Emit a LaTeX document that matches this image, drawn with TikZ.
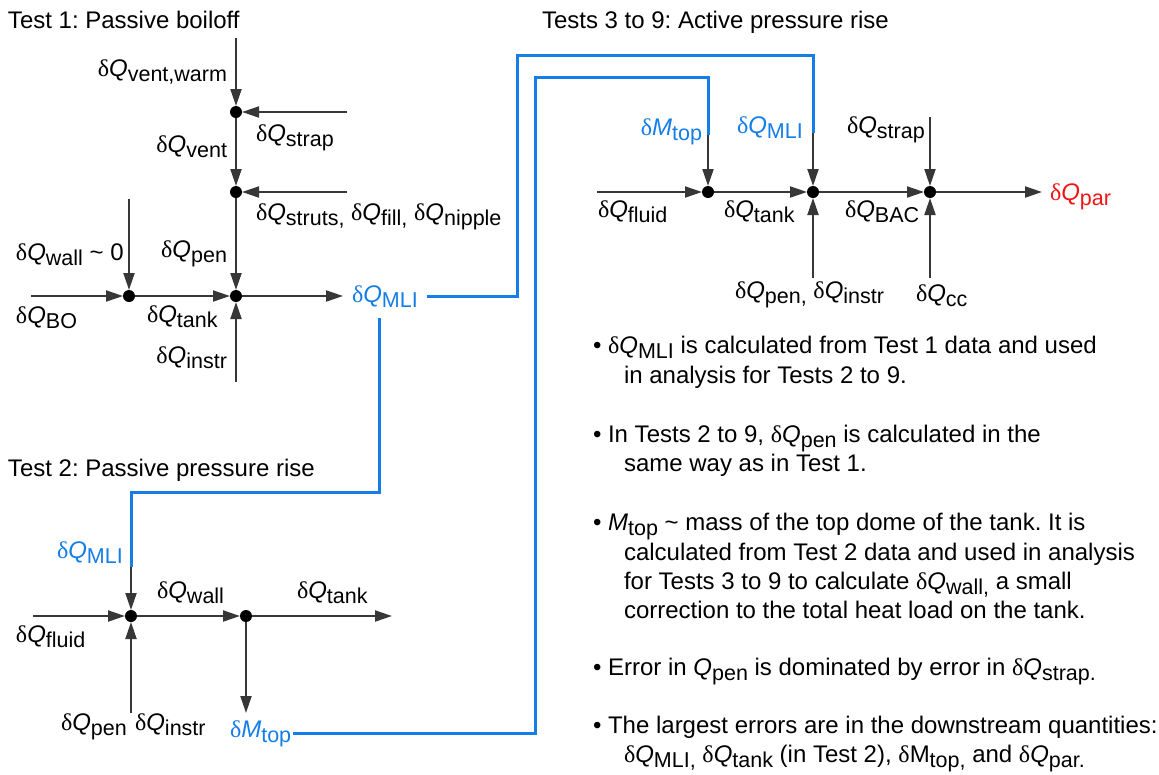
\documentclass[tikz,border=0pt]{standalone}
\usepackage{fontspec}
\setmainfont{Liberation Sans}
\newfontfamily\dltfont{Liberation Serif}
\usetikzlibrary{arrows.meta,calc}
\definecolor{lblue}{RGB}{20,125,230}
\definecolor{lred}{RGB}{240,20,20}
\definecolor{lgray}{RGB}{55,55,55}
\newcommand\dlt{{\dltfont δ}}
\newcommand\sbs[1]{\raisebox{-5pt}{\fontsize{21.5}{23}\selectfont #1}}
\newcommand\dQ[1]{\dlt\textit{Q}\sbs{#1}}
\newcommand\dM[1]{\dlt\textit{M}\sbs{#1}}
\frenchspacing
\begin{document}
\begin{tikzpicture}[x=1pt,y=-1pt,
  every node/.style={font=\fontsize{24}{29.3}\selectfont\frenchspacing, inner sep=0pt, outer sep=0pt},
  lbl/.style={anchor=base west},
  lble/.style={anchor=base east},
  dotn/.style={circle, fill=black, minimum size=12pt, inner sep=0pt},
  arr/.style={draw=lgray, line width=2pt, -{Triangle[length=17pt,width=11pt]}},
  bline/.style={draw=lblue, line width=3pt},
  blu/.style={text=lblue},
  ]
\useasboundingbox (0,0) rectangle (1159,774);

% ---------- Test 1 ----------
\node[lbl] (t1) at (8,28) {Test 1: Passive boiloff};
\coordinate (t1top) at (236,38);
\node[dotn] (a1) at (236,112) {};
\node[dotn] (a2) at (236,192) {};
\node[dotn] (a3) at (236,296) {};
\node[dotn] (a4) at (129,296) {};
\coordinate (strapin) at (347,112);
\coordinate (strutsin) at (347,192);
\coordinate (wallin) at (129,199);
\coordinate (boin) at (31,296);
\coordinate (instrin) at (236,382);
\node[lbl,blu] (mli1) at (352,302) {\dQ{MLI}};

\draw[arr] (t1top) -- (a1);
\draw[arr] (strapin) -- (a1);
\draw[arr] (a1) -- (a2);
\draw[arr] (strutsin) -- (a2);
\draw[arr] (a2) -- (a3);
\draw[arr] (wallin) -- (a4);
\draw[arr] (boin) -- (a4);
\draw[arr] (a4) -- (a3);
\draw[arr] (instrin) -- (a3);
\draw[arr] (a3) -- ([xshift=-9pt]mli1.west |- a3);

\node[lble] at (227,76) {\dQ{vent,warm}};
\node[lbl] at (256,141) {\dQ{strap}};
\node[lble] at (227,152) {\dQ{vent}};
\node[lbl] at (256,220) {\dQ{struts,} \dQ{fill,} \dQ{nipple}};
\node[lble] at (227,257) {\dQ{pen}};
\node[lbl] at (16,260) {\dQ{wall} \textasciitilde\ 0};
\node[lbl] at (16,323) {\dQ{BO}};
\node[lbl] at (147,322) {\dQ{tank}};
\node[lble] at (227,363) {\dQ{instr}};

% ---------- Test 2 ----------
\node[lbl] (t2) at (8,476) {Test 2: Passive pressure rise};
\node[dotn] (b1) at (131,616) {};
\node[dotn] (b2) at (246,616) {};
\coordinate (fluidin) at (33,616);
\coordinate (penin2) at (131,713);
\coordinate (tankout) at (392,616);
\coordinate (mtopout) at (246,713);
\node[lbl,blu] (mli2) at (57,558) {\dQ{MLI}};
\node[lbl,blu] (mt2) at (230,737) {\dM{top}};

\draw[arr] (fluidin) -- (b1);
\draw[arr] (penin2) -- (b1);
\draw[arr] (b1) -- (b2);
\draw[arr] (b2) -- (tankout);
\draw[arr] (b2) -- (mtopout);

\node[lbl] at (157,598) {\dQ{wall}};
\node[lbl] at (297,598) {\dQ{tank}};
\node[lbl] at (16,642) {\dQ{fluid}};
\node[lbl] at (61,730) {\dQ{pen}};
\node[lbl] at (135,730) {\dQ{instr}};

% ---------- Tests 3 to 9 ----------
\node[lbl] (t3) at (542,28) {Tests 3 to 9: Active pressure rise};
\node[dotn] (c1) at (708,192) {};
\node[dotn] (c2) at (813,192) {};
\node[dotn] (c3) at (930,192) {};
\coordinate (fluidin3) at (597,192);
\coordinate (strapin3) at (930,117);
\coordinate (ccin) at (930,278);
\coordinate (penin3) at (813,278);
\node[lble,blu] (mt3) at (702,135) {\dM{top}};
\node[lbl,blu] (mli3) at (737,133) {\dQ{MLI}};
\node[lbl] at (847,133) {\dQ{strap}};
\node[lbl] at (598,217) {\dQ{fluid}};
\node[lbl] at (724,217) {\dQ{tank}};
\node[lbl] at (845,217) {\dQ{BAC}};
\node[lbl] at (735,298) {\dQ{pen,} \dQ{instr}};
\node[lbl] at (916,301) {\dQ{cc}};
\node[lbl,text=lred] (par) at (1050,200) {\dQ{par}};

\draw[arr] (fluidin3) -- (c1);
\draw[arr] (c1) -- (c2);
\draw[arr] (c2) -- (c3);
\draw[arr] (strapin3) -- (c3);
\draw[arr] (ccin) -- (c3);
\draw[arr] (penin3) -- (c2);
\draw[arr] (c3) -- ([xshift=-8pt]par.west |- c3);

% ---------- blue links ----------
\coordinate (u1) at (517,55);
\coordinate (u2) at (813,133);
\draw[bline] ([xshift=9pt]mli1.east |- a3) -| (u1) -| (u2);
\draw[arr] (u2) -- (c2);

\coordinate (v1) at (379,492);
\coordinate (v2) at (131,567);
\draw[bline] ([yshift=-11pt]mli1.south -| v1) -- (v1) -| (v2);
\draw[arr] (v2) -- (b1);

\coordinate (w1) at (535,77);
\coordinate (w2) at (708,135);
\draw[bline] ([xshift=2pt,yshift=4pt]mt2.base east) -| (w1) -| (w2);
\draw[arr] (w2) -- (c1);

% ---------- notes ----------
\node[lbl] at (593,353) {• \dQ{MLI} is calculated from Test 1 data and used};
\node[lbl] at (624,383) {in analysis for Tests 2 to 9.};
\node[lbl] at (593,442) {• In Tests 2 to 9, \dQ{pen} is calculated in the};
\node[lbl] at (624,471) {same way as in Test 1.};
\node[lbl] at (593,530) {• \textit{M}\sbs{top} \textasciitilde\ mass of the top dome of the tank. It is};
\node[lbl] at (624,560) {calculated from Test 2 data and used in analysis};
\node[lbl] at (624,589) {for Tests 3 to 9 to calculate \dQ{wall,} a small};
\node[lbl] at (624,618) {correction to the total heat load on the tank.};
\node[lbl] at (593,675) {• Error in \textit{Q}\sbs{pen} is dominated by error in \dQ{strap.}};
\node[lbl] at (593,733) {• The largest errors are in the downstream quantities:};
\node[lbl] at (624,762) {\dQ{MLI,} \dQ{tank} (in Test 2), \dlt M\sbs{top,} and \dQ{par.}};
\end{tikzpicture}
\end{document}
